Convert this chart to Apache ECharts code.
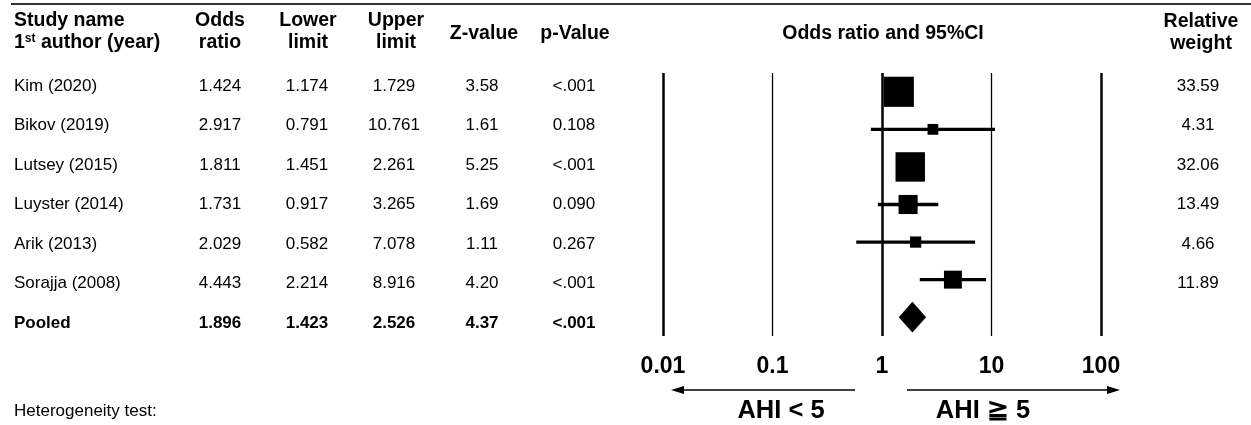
<!DOCTYPE html>
<html><head><meta charset="utf-8">
<script src="https://cdn.jsdelivr.net/npm/echarts@6/dist/echarts.min.js"></script>
<style>html,body{margin:0;padding:0;background:#fff}#c{width:1251px;height:425px}</style>
</head><body><div id="c"></div>
<script>
// ---- data ----
const studies = ['Kim (2020)','Bikov (2019)','Lutsey (2015)','Luyster (2014)','Arik (2013)','Sorajja (2008)'];
const oddsRatio = [1.424, 2.917, 1.811, 1.731, 2.029, 4.443];
const lowerLimit = [1.174, 0.791, 1.451, 0.917, 0.582, 2.214];
const upperLimit = [1.729, 10.761, 2.261, 3.265, 7.078, 8.916];
const zValue = ['3.58','1.61','5.25','1.69','1.11','4.20'];
const pValue = ['<.001','0.108','<.001','0.090','0.267','<.001'];
const relWeight = [33.59, 4.31, 32.06, 13.49, 4.66, 11.89];
const pooledName = 'Pooled';
const pooledOR = 1.896, pooledLower = 1.423, pooledUpper = 2.526;
const pooledZ = '4.37', pooledP = '<.001';
const xTicks = [0.01, 0.1, 1, 10, 100];
const xTickLabels = ['0.01','0.1','1','10','100'];

// ---- layout ----
const FONT = '"Liberation Sans", Arial, Helvetica, sans-serif';
const rows = studies.concat([pooledName]);
const colX = {or:220, lo:307, up:394, z:482, p:574, w:1198};
const rowY0 = 86, rowStep = 39.5;
const D = 17;

const chart = echarts.init(document.getElementById('c'), null, {renderer:'canvas'});

const g = [];
function txt(text, x, y, opt) {
  opt = opt || {};
  g.push({type:'text', silent:true, style:{
    text:text, x:x, y:y, fill:'#000', textAlign:opt.align||'center', textVerticalAlign:'middle',
    fontFamily:FONT, fontSize:opt.size||D, fontWeight:opt.bold?'bold':'normal'
  }});
}
// top rule
g.push({type:'line', silent:true, shape:{x1:11,y1:4,x2:1251,y2:4}, style:{stroke:'#333', lineWidth:2}});
// headers
const H = 19.5;
txt('Study name', 14, 21, {align:'left', size:H, bold:true});
g.push({type:'text', silent:true, style:{
  x:14, y:43, textAlign:'left', textVerticalAlign:'middle',
  text:'{a|1}{s|st}{a| author (year)}',
  rich:{a:{fontFamily:FONT, fontSize:H, fontWeight:'bold', fill:'#000', verticalAlign:'bottom'},
        s:{fontFamily:FONT, fontSize:12, fontWeight:'bold', fill:'#000', verticalAlign:'top'}}
}});
txt('Odds', colX.or, 21, {size:H, bold:true}); txt('ratio', colX.or, 43, {size:H, bold:true});
txt('Lower', colX.lo+1, 21, {size:H, bold:true}); txt('limit', colX.lo+1, 43, {size:H, bold:true});
txt('Upper', colX.up+2, 21, {size:H, bold:true}); txt('limit', colX.up+2, 43, {size:H, bold:true});
txt('Z-value', 484, 34, {size:H, bold:true});
txt('p-Value', 575, 34, {size:H, bold:true});
txt('Odds ratio and 95%CI', 883, 34, {size:H, bold:true});
txt('Relative', 1201, 22, {size:H, bold:true}); txt('weight', 1201, 44, {size:H, bold:true});

// table rows
studies.forEach((s,i)=>{
  const y = rowY0 + i*rowStep;
  txt(s, 14, y, {align:'left'});
  txt(oddsRatio[i].toFixed(3), colX.or, y);
  txt(lowerLimit[i].toFixed(3), colX.lo, y);
  txt(upperLimit[i].toFixed(3), colX.up, y);
  txt(zValue[i], colX.z, y);
  txt(pValue[i], colX.p, y);
  txt(relWeight[i].toFixed(2), colX.w, y);
});
{
  const y = rowY0 + studies.length*rowStep;
  txt(pooledName, 14, y, {align:'left', bold:true});
  txt(pooledOR.toFixed(3), colX.or, y, {bold:true});
  txt(pooledLower.toFixed(3), colX.lo, y, {bold:true});
  txt(pooledUpper.toFixed(3), colX.up, y, {bold:true});
  txt(pooledZ, colX.z, y, {bold:true});
  txt(pooledP, colX.p, y, {bold:true});
}
txt('Heterogeneity test:', 14, 411, {align:'left'});

// arrows
g.push({type:'line', silent:true, shape:{x1:855,y1:390,x2:678,y2:390}, style:{stroke:'#000', lineWidth:1.6}});
g.push({type:'polygon', silent:true, shape:{points:[[671,390],[684,386],[684,394]]}, style:{fill:'#000'}});
g.push({type:'line', silent:true, shape:{x1:907,y1:390,x2:1113,y2:390}, style:{stroke:'#000', lineWidth:1.6}});
g.push({type:'polygon', silent:true, shape:{points:[[1120,390],[1107,386],[1107,394]]}, style:{fill:'#000'}});
txt('AHI < 5', 781, 411, {size:25.5, bold:true});
txt('AHI \u2267 5', 983, 411, {size:25.5, bold:true});

// series data: [x, rowIndex, extra...]
const ciData = studies.map((s,i)=>[lowerLimit[i], i, upperLimit[i]]);
const boxData = studies.map((s,i)=>[oddsRatio[i], i]);
const diamondData = [[pooledOR, studies.length, pooledLower, pooledUpper]];

chart.setOption({
  animation:false,
  backgroundColor:'#fff',
  grid:{left:663, width:438, top:73, height:263},
  xAxis:{type:'log', logBase:10, min:0.01, max:100,
    axisLine:{show:false}, axisTick:{show:false}, splitLine:{show:false},
    axisLabel:{show:true, margin:19, color:'#000', fontFamily:FONT, fontSize:23, fontWeight:'bold',
      formatter:(v)=>{ const e=Math.round(Math.log10(v)); return xTickLabels[e+2] || ''; }}
  },
  yAxis:{type:'category', data:rows, inverse:true, show:false},
  graphic:g,
  series:[
    {type:'custom', name:'ci', data:ciData, z:3,
      renderItem:(params, api)=>{
        const y = api.value(1);
        const p1 = api.coord([api.value(0), y]);
        const p2 = api.coord([api.value(2), y]);
        return {type:'line', shape:{x1:p1[0],y1:p1[1],x2:p2[0],y2:p2[1]}, style:{stroke:'#000', lineWidth:3.3}};
      }
    },
    {type:'scatter', name:'box', data:boxData, symbol:'rect', z:4,
      symbolSize:(val, p)=>5.2*Math.sqrt(relWeight[p.dataIndex]),
      itemStyle:{color:'#000', opacity:1},
      markLine:{silent:true, symbol:['none','none'], label:{show:false}, z:1,
        lineStyle:{color:'#000', type:'solid'},
        data:xTicks.map(v=>({xAxis:v, lineStyle:{color:'#000', type:'solid', width:(v===0.1||v===10)?1.3:2.5}}))}
    },
    {type:'custom', name:'pooled', data:diamondData, z:4,
      renderItem:(params, api)=>{
        const y = api.value(1);
        const c = api.coord([api.value(0), y]);
        const l = api.coord([api.value(2), y]);
        const r = api.coord([api.value(3), y]);
        const h = api.size([0,1])[1]*0.41;
        return {type:'polygon', shape:{points:[[l[0],c[1]],[c[0],c[1]-h],[r[0],c[1]],[c[0],c[1]+h]]}, style:{fill:'#000'}};
      }}
  ]
});
</script></body></html>
